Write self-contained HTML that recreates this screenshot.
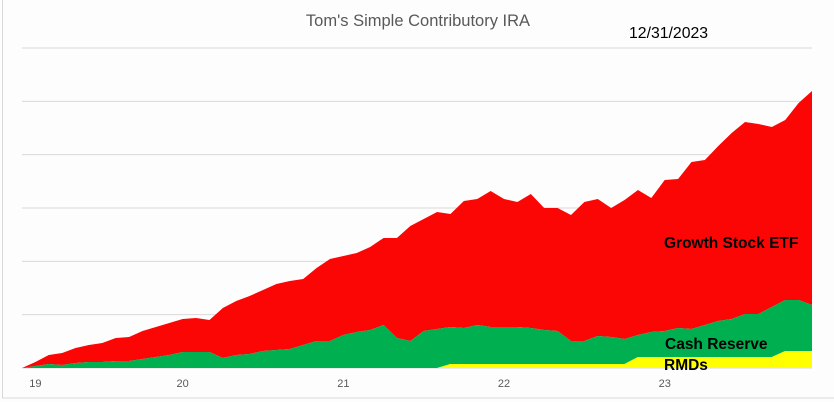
<!DOCTYPE html>
<html><head><meta charset="utf-8"><style>
html,body{margin:0;padding:0;background:#fff;}
svg{display:block;font-family:"Liberation Sans",Arial,sans-serif;}
</style></head><body>
<svg id="chart" width="834" height="402" viewBox="0 0 834 402">
<rect x="0" y="0" width="834" height="402" fill="#fdfdfd"/>
<rect x="2.5" y="-2" width="840" height="400" fill="none" stroke="#d9d9d9" stroke-width="1"/>
<text x="418" y="26" text-anchor="middle" font-size="16.5" fill="#595959">Tom's Simple Contributory IRA</text>
<text x="629" y="38" font-size="15.8" fill="#000">12/31/2023</text>
<g id="grid"></g>
<g id="areas"></g>
<g id="xlabels"></g>
<text x="664" y="248" font-size="15.5" font-weight="bold" fill="#000">Growth Stock ETF</text>
<text x="665" y="349" font-size="15.5" font-weight="bold" fill="#000">Cash Reserve</text>
<text x="664" y="370" font-size="15.5" font-weight="bold" fill="#000">RMDs</text>
</svg>
<script>
const rmds = [0,0,0,0,0,0,0,0,0,0, 0,0,0,0,0,0,0,0,0,0, 0,0,0,0,0,0,0,0,0,0, 0,0,4,4,4,4,4,4,4,4, 4,4,4,4,4,4,11,11,11,11, 11,11,11,11,11,11,11,17,17,17];
const cashReserve = [0,2,4,3,5,6,6,7,7,9, 11,13,16,16,16,10,13,14,17,18, 19,23,27,27,33,36,38,43,30,27, 37,39,37,36,39,37,37,37,36,34, 33,23,23,28,27,25,22,25,26,29, 28,32,36,38,43,43,50,51,51,46];
const growthStock = [0,4,9,12,15,17,19,23,24,28, 30,32,33,34,32,50,54,58,61,66, 68,66,73,82,79,79,83,87,100,115, 112,117,113,127,126,136,128,125,134,122, 123,126,139,137,129,139,145,134,151,149, 167,165,175,186,192,190,180,180,197,214];
const gridTicks = [0, 53.33, 106.67, 160, 213.33, 266.67, 320];
const yearLabels = ["19","20","21","22","23"];
const yearLabelIdx = [1, 12, 24, 36, 48];

const NS = "http://www.w3.org/2000/svg";
const X0 = 22, X1 = 812, Y0 = 368, Y1 = 48, YMAX = 320;
const n = growthStock.length;
function xs(i){ return X0 + (X1 - X0) * i / (n - 1); }
function ys(v){ return Y0 - (Y0 - Y1) * v / YMAX; }

const grid = document.getElementById('grid');
gridTicks.forEach(t => {
  const l = document.createElementNS(NS,'line');
  l.setAttribute('x1', X0); l.setAttribute('x2', X1);
  l.setAttribute('y1', ys(t)); l.setAttribute('y2', ys(t));
  l.setAttribute('stroke', '#d9d9d9'); l.setAttribute('stroke-width', '1');
  
  
  grid.appendChild(l);
});

const series = [rmds, cashReserve, growthStock];
const colors = ['#ffff00', '#00b050', '#fc0505'];
const names = ['area-rmds', 'area-cash-reserve', 'area-growth-stock-etf'];
const areas = document.getElementById('areas');
let base = new Array(n).fill(0);
const paths = [];
series.forEach((s, k) => {
  const top = base.map((b, i) => b + s[i]);
  let d = '';
  for (let i = 0; i < n; i++) d += (i ? 'L' : 'M') + xs(i).toFixed(2) + ',' + ys(top[i]).toFixed(2);
  for (let i = n - 1; i >= 0; i--) d += 'L' + xs(i).toFixed(2) + ',' + ys(base[i]).toFixed(2);
  d += 'Z';
  const p = document.createElementNS(NS, 'path');
  p.setAttribute('d', d);
  p.setAttribute('fill', colors[k]);
  
  
  paths.push(p);
  base = top;
});
paths.reverse().forEach(p => areas.appendChild(p));

const xl = document.getElementById('xlabels');
yearLabels.forEach((lab, j) => {
  const t = document.createElementNS(NS, 'text');
  t.setAttribute('x', xs(yearLabelIdx[j]));
  t.setAttribute('y', 387);
  t.setAttribute('text-anchor', 'middle');
  t.setAttribute('font-size', '11');
  t.setAttribute('fill', '#595959');
  
  
  t.textContent = lab;
  xl.appendChild(t);
});
</script>
</body></html>
